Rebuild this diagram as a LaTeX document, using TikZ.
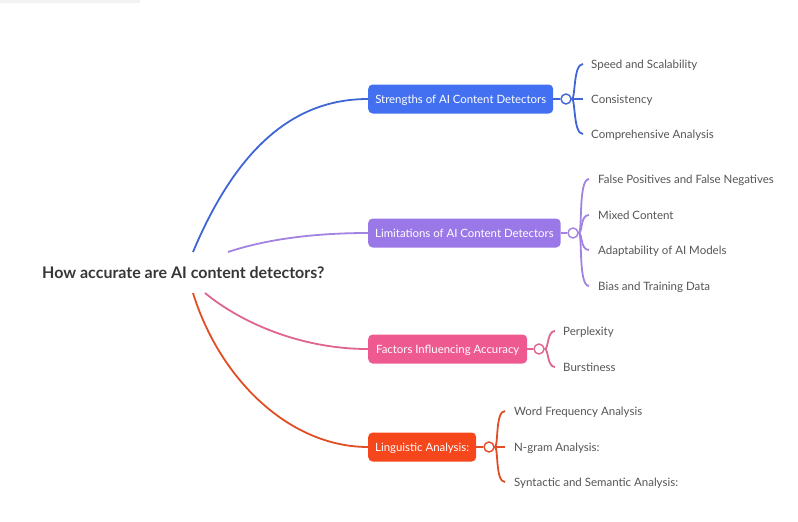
\documentclass[tikz,border=0pt]{standalone}
\usepackage{fontspec}
\setmainfont{Lato}
\definecolor{strengthbox}{HTML}{4270F0}
\definecolor{strengthline}{HTML}{3F66D4}
\definecolor{limitbox}{HTML}{9B78E8}
\definecolor{limitline}{HTML}{A383E2}
\definecolor{factorbox}{HTML}{EE5A90}
\definecolor{factorline}{HTML}{E0648F}
\definecolor{lingbox}{HTML}{F5461C}
\definecolor{lingline}{HTML}{E04E26}
\definecolor{leafgrey}{HTML}{555555}
\definecolor{rootgrey}{HTML}{363636}
\begin{document}
\begin{tikzpicture}[x=1pt,y=-1pt,
    root/.style={anchor=west, inner sep=0pt, text=rootgrey, font=\fontsize{16}{18}\selectfont\bfseries},
    topic/.style={anchor=west, fill=#1, text=white, rounded corners=4.5pt, minimum height=29pt, inner xsep=7pt, text height=9pt, text depth=1pt, font=\fontsize{11.4}{13}\selectfont},
    hub/.style={circle, draw=#1, fill=white, line width=1.4pt, minimum size=10pt, inner sep=0pt},
    leaf/.style={anchor=west, inner xsep=#1, inner ysep=2pt, text height=9pt, text depth=1pt, text=leafgrey, font=\fontsize{11.5}{13}\selectfont},
    link/.style={draw=#1, line width=1.8pt}]
    \useasboundingbox (0,0) rectangle (798,522);
    
    % Faint bar in the top left corner
    \fill [black!5] (0,0) rectangle (140,3);
    
    % Root question
    \node [root] (question) at (42,273) {How accurate are AI content detectors?};
    \coordinate (qStrength) at (193,252);
    \coordinate (qLimit) at (228,252);
    \coordinate (qFactor) at (205,293);
    \coordinate (qLing) at (193,293);
    
    % Topic Strengths
    \node [topic=strengthbox, minimum width=185pt] (strength) at (368,99) {Strengths of AI Content Detectors};
    \draw [link=strengthline] (qStrength) .. controls (240,140) and (300,99) .. (strength.west);
    \node [hub=strengthline] (strengthHub) at (566,99) {};
    \draw [link=strengthline] (strength.east) -- (strengthHub.west);
    \node [leaf=8pt] (speed) at (583,64) {Speed and Scalability};
    \node [leaf=8pt] (consistency) at (583,99) {Consistency};
    \node [leaf=8pt] (comprehensive) at (583,134) {Comprehensive Analysis};
    \draw [link=strengthline] (strengthHub.east) .. controls +(4,0) and +(-10,0) .. (speed.west);
    \draw [link=strengthline] (strengthHub.east) -- (consistency.west);
    \draw [link=strengthline] (strengthHub.east) .. controls +(4,0) and +(-10,0) .. (comprehensive.west);
    
    % Topic Limitations
    \node [topic=limitbox, minimum width=192pt] (limit) at (368,233) {Limitations of AI Content Detectors};
    \draw [link=limitline] (qLimit) .. controls (270,238) and (320,233) .. (limit.west);
    \node [hub=limitline] (limitHub) at (573,233) {};
    \draw [link=limitline] (limit.east) -- (limitHub.west);
    \node [leaf=9pt] (falsepos) at (589,179) {False Positives and False Negatives};
    \node [leaf=9pt] (mixed) at (589,215) {Mixed Content};
    \node [leaf=9pt] (adapt) at (589,250) {Adaptability of AI Models};
    \node [leaf=9pt] (bias) at (589,286) {Bias and Training Data};
    \draw [link=limitline] (limitHub.east) .. controls +(4,0) and +(-11,0) .. (falsepos.west);
    \draw [link=limitline] (limitHub.east) .. controls +(4,0) and +(-9,0) .. (mixed.west);
    \draw [link=limitline] (limitHub.east) .. controls +(4,0) and +(-9,0) .. (adapt.west);
    \draw [link=limitline] (limitHub.east) .. controls +(4,0) and +(-11,0) .. (bias.west);
    
    % Topic Factors
    \node [topic=factorbox, minimum width=159pt] (factor) at (368,349) {Factors Influencing Accuracy};
    \draw [link=factorline] (qFactor) .. controls (240,322) and (300,349) .. (factor.west);
    \node [hub=factorline] (factorHub) at (539,349) {};
    \draw [link=factorline] (factor.east) -- (factorHub.west);
    \node [leaf=8pt] (perplexity) at (555,331) {Perplexity};
    \node [leaf=8pt] (burstiness) at (555,367) {Burstiness};
    \draw [link=factorline] (factorHub.east) .. controls +(4,0) and +(-8,0) .. (perplexity.west);
    \draw [link=factorline] (factorHub.east) .. controls +(4,0) and +(-8,0) .. (burstiness.west);
    
    % Topic Linguistic
    \node [topic=lingbox, minimum width=108pt] (ling) at (368,447) {Linguistic Analysis:};
    \draw [link=lingline] (qLing) .. controls (220,380) and (290,447) .. (ling.west);
    \node [hub=lingline] (lingHub) at (489,447) {};
    \draw [link=lingline] (ling.east) -- (lingHub.west);
    \node [leaf=9pt] (wordfreq) at (505,411) {Word Frequency Analysis};
    \node [leaf=9pt] (ngram) at (505,447) {N-gram Analysis:};
    \node [leaf=9pt] (syntactic) at (505,482) {Syntactic and Semantic Analysis:};
    \draw [link=lingline] (lingHub.east) .. controls +(4,0) and +(-10,0) .. (wordfreq.west);
    \draw [link=lingline] (lingHub.east) -- (ngram.west);
    \draw [link=lingline] (lingHub.east) .. controls +(4,0) and +(-10,0) .. (syntactic.west);
\end{tikzpicture}
\end{document}
